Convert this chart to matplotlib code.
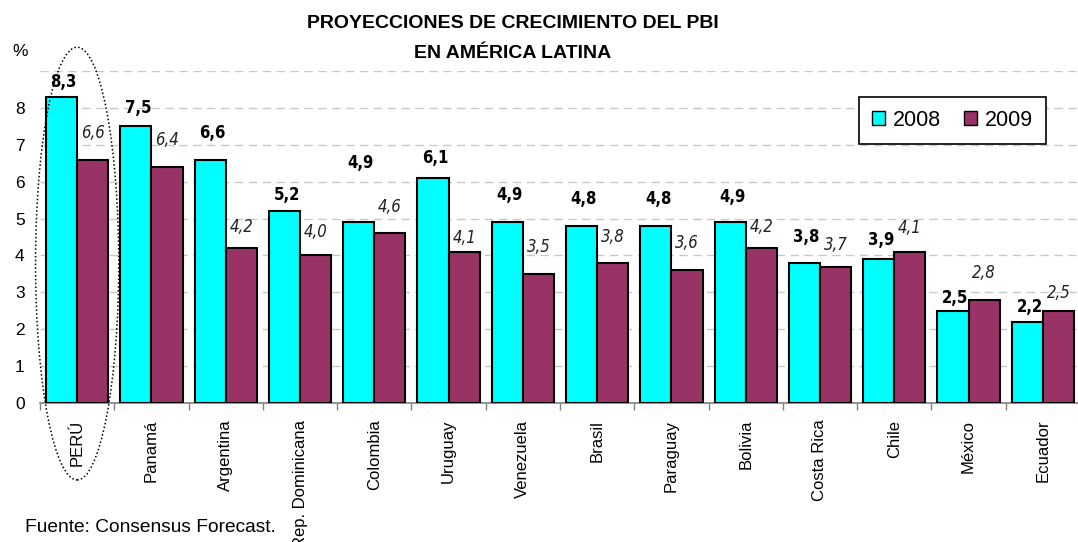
import matplotlib
matplotlib.use('Agg')
import matplotlib.pyplot as plt
from matplotlib.patches import Ellipse, Patch
import numpy as np

plt.rcParams['font.family'] = ['Liberation Sans', 'DejaVu Sans']

###datos
paises = ['PERÚ', 'Panamá', 'Argentina', 'Rep. Dominicana', 'Colombia', 'Uruguay',
          'Venezuela', 'Brasil', 'Paraguay', 'Bolivia', 'Costa Rica', 'Chile',
          'México', 'Ecuador']
pbi_2008 = [8.3, 7.5, 6.6, 5.2, 4.9, 6.1, 4.9, 4.8, 4.8, 4.9, 3.8, 3.9, 2.5, 2.2]
pbi_2009 = [6.6, 6.4, 4.2, 4.0, 4.6, 4.1, 3.5, 3.8, 3.6, 4.2, 3.7, 4.1, 2.8, 2.5]
# altura de las etiquetas (puestas a mano en el original)
etiq_2008 = [8.70, 8.00, 7.32, 5.64, 6.50, 6.64, 5.64, 5.53, 5.53, 5.58, 4.50, 4.42, 2.85, 2.60]
etiq_2009 = [7.33, 7.13, 4.77, 4.63, 5.31, 4.47, 4.23, 4.50, 4.34, 4.77, 4.28, 4.74, 3.52, 2.98]

cian = '#00FFFF'
granate = '#993366'

fig = plt.figure(figsize=(10.78, 5.42), dpi=100)
ax = fig.add_axes([40/1078, 139/542, 1040/1078, 332/542])

x = np.arange(len(paises))
w = 0.42
ax.bar(x - w/2, pbi_2008, width=w, color=cian, edgecolor='black', linewidth=1.5, zorder=3)
ax.bar(x + w/2, pbi_2009, width=w, color=granate, edgecolor='black', linewidth=1.5, zorder=3)

fmt = lambda v: ('%.1f' % v).replace('.', ',')
for i in range(len(paises)):
    ax.text(x[i] - w/2 + 0.03, etiq_2008[i], fmt(pbi_2008[i]), ha='center', va='center',
            fontsize=12, fontweight='bold', fontstretch='condensed',
            family='DejaVu Sans', zorder=4)
    ax.text(x[i] + w/2, etiq_2009[i], fmt(pbi_2009[i]), ha='center', va='center',
            fontsize=12, style='italic', fontstretch='condensed', color='#222222',
            family='DejaVu Sans', zorder=4)

ax.set_xlim(-0.5, len(paises) - 0.5)
ax.set_ylim(0, 9)
ax.set_yticks(range(10))
ax.set_yticklabels([str(i) for i in range(9)] + [''], fontsize=12.5)
ax.tick_params(axis='y', length=0, pad=11)
for yv in range(1, 10):
    ax.axhline(yv, color='#c8c8c8', linestyle=(0, (6, 4)), linewidth=1, zorder=1)

ax.set_xticks(x)
ax.set_xticklabels(paises, rotation=90, fontsize=12)
ax.tick_params(axis='x', which='major', length=0, pad=12)
ax.set_xticks(np.arange(-0.5, len(paises), 1), minor=True)
ax.tick_params(axis='x', which='minor', length=5, color='#808080', width=1)

for s in ['top', 'right', 'left']:
    ax.spines[s].set_visible(False)
ax.spines['bottom'].set_color('#808080')
ax.spines['bottom'].set_linewidth(1.2)

# elipse punteada alrededor de Perú
ax.add_patch(Ellipse((0, 3.78), 1.12, 11.73, fill=False, edgecolor='black',
                     linestyle=(0, (1, 1.5)), linewidth=1.1, clip_on=False, zorder=5))

handles = [Patch(facecolor=cian, edgecolor='black', label='2008'),
           Patch(facecolor=granate, edgecolor='black', label='2009')]
leg = ax.legend(handles=handles, loc='upper right', bbox_to_anchor=(0.967, 0.922),
                ncol=2, fontsize=15.5, frameon=True, fancybox=False, framealpha=1,
                edgecolor='black', handlelength=0.6, handleheight=0.6,
                handletextpad=0.35, columnspacing=1.1, borderpad=0.6, borderaxespad=0)
leg.get_frame().set_linewidth(1.2)

fig.text(513/1078, 1 - 23/542, 'PROYECCIONES DE CRECIMIENTO DEL PBI', ha='center', va='center',
         fontsize=14, fontweight='bold')
fig.text(513/1078, 1 - 54/542, 'EN AMÉRICA LATINA', ha='center', va='center',
         fontsize=14, fontweight='bold')
fig.text(12/1078, 1 - 52/542, '%', ha='left', va='center', fontsize=12.5)
fig.text(25/1078, 1 - 528/542, 'Fuente: Consensus Forecast.', ha='left', va='center', fontsize=13.8)

plt.savefig('out.png', dpi=100)
